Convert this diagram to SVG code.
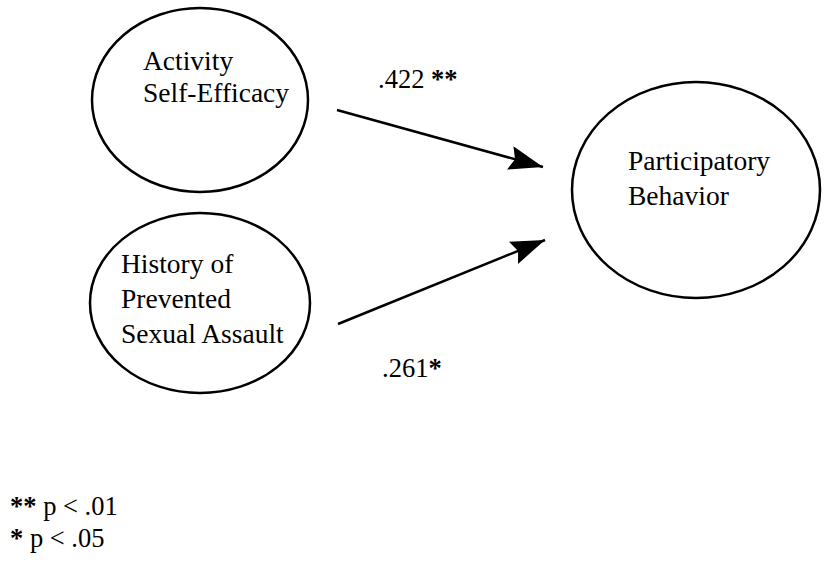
<svg xmlns="http://www.w3.org/2000/svg" width="825" height="563" viewBox="0 0 825 563">
<style>
.node ellipse { fill: #fff; stroke: #000; stroke-width: 2.5; }
text { font-family: "Liberation Serif", "Times New Roman", serif; font-size: 26.5px; fill: #000; }
.node text { font-size: 27.5px; }
.star { font-weight: bold; }
.edge { stroke: #000; stroke-width: 2.5; fill: none; }
</style>
<defs>
<marker id="arr" markerUnits="userSpaceOnUse" markerWidth="36" markerHeight="26" refX="34" refY="12" orient="auto">
<path d="M0,0 L34,12 L0,24 L5,12 Z" fill="#000"/>
</marker>
</defs>
<rect width="825" height="563" fill="#fff"/>
<g id="n1" class="node">
<ellipse cx="200" cy="100" rx="108" ry="92"/>
<text x="143" y="70">Activity</text>
<text x="143" y="102">Self-Efficacy</text>
</g>
<g id="n2" class="node">
<ellipse cx="200" cy="303" rx="110" ry="90"/>
<text x="121" y="273">History of</text>
<text x="121" y="308">Prevented</text>
<text x="121" y="343">Sexual Assault</text>
</g>
<g id="n3" class="node">
<ellipse cx="696" cy="190" rx="124" ry="108"/>
<text x="628" y="170">Participatory</text>
<text x="628" y="205">Behavior</text>
</g>
<g id="edges">
<line class="edge" x1="337" y1="110" x2="543" y2="167" marker-end="url(#arr)"/>
<line class="edge" x1="338" y1="324" x2="545" y2="240" marker-end="url(#arr)"/>
<text x="378" y="88">.422 <tspan class="star">**</tspan></text>
<text x="382" y="377">.261<tspan class="star">*</tspan></text>
</g>
<g id="legend">
<text x="10" y="515"><tspan class="star">**</tspan> p &lt; .01</text>
<text x="10" y="547"><tspan class="star">*</tspan> p &lt; .05</text>
</g>
</svg>
